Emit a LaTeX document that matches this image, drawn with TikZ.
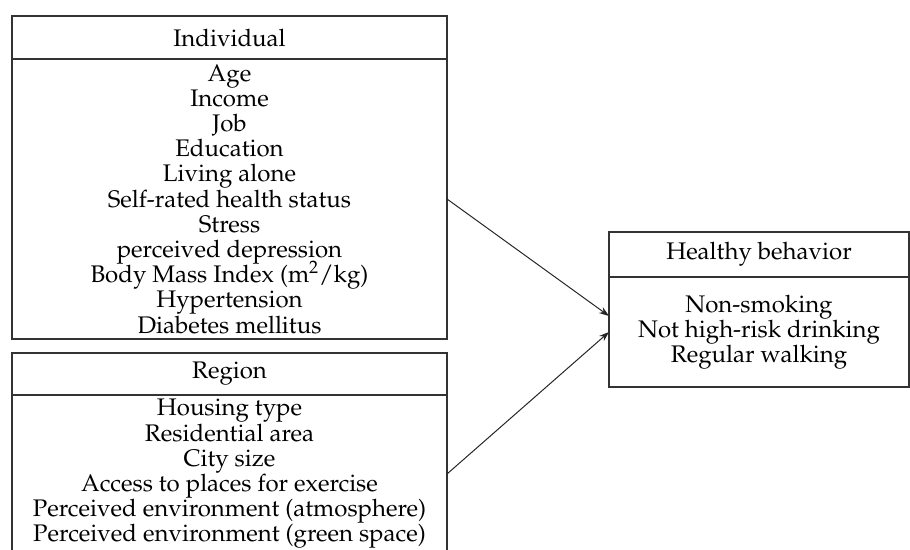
\documentclass[tikz,border=0pt]{standalone}
\usepackage[T1]{fontenc}
\usepackage{mathpazo}
\usepackage{tikz}
\usetikzlibrary{arrows.meta,positioning,calc}

\begin{document}
\begin{tikzpicture}[
        x=0.5pt, y=-0.5pt,
        node distance=7pt,
        box/.style={draw=black!80, line width=0.7pt, rectangle, outer sep=0pt, inner sep=0pt, align=center, font={\fontsize{12}{12.6}\selectfont\lineskiplimit=-10pt\relax}},
        arr/.style={-{Stealth[length=5pt,width=3.5pt]}, line width=0.5pt, black!85}
    ]
        \useasboundingbox (0,0) rectangle (910,550);

        \node[box, anchor=north west, minimum width=217.5pt, minimum height=21.5pt] (indhead) at (12,16) {Individual};
        \node[box, below=0pt of indhead, minimum width=217.5pt, minimum height=140pt] (indbody) {Age\\Income\\Job\\Education\\Living alone\\Self-rated health status\\Stress\\perceived depression\\Body Mass Index (m\textsuperscript{2}/kg)\\Hypertension\\Diabetes mellitus};

        \node[box, below=of indbody, minimum width=217.5pt, minimum height=21pt] (reghead) {Region};
        \node[box, below=0pt of reghead, minimum width=217.5pt, minimum height=79pt] (regbody) {Housing type\\Residential area\\City size\\Access to places for exercise\\Perceived environment (atmosphere)\\Perceived environment (green space)};

        \node[box, anchor=north west, minimum width=150pt, minimum height=22.5pt] (hbhead) at (609,232) {Healthy behavior};
        \node[box, below=0pt of hbhead, minimum width=150pt, minimum height=55pt] (hbbody) {Non-smoking\\Not high-risk drinking\\Regular walking};

        \draw[arr] (indbody.east) -- ($(hbbody.west)+(0,-16)$);
        \draw[arr] (regbody.east) -- (hbbody.west);

    \end{tikzpicture}
\end{document}
